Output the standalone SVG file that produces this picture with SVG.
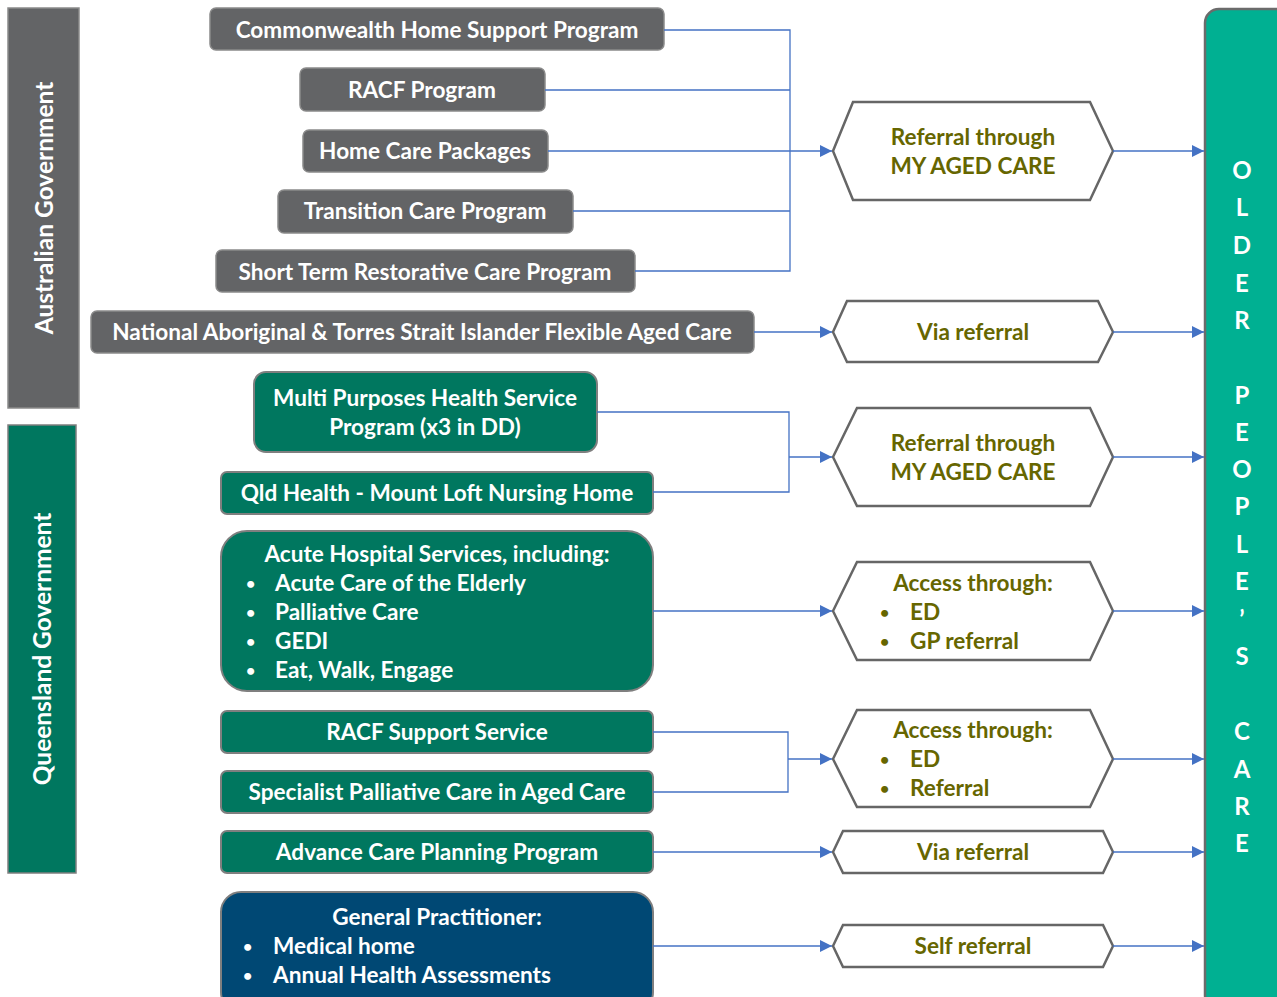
<svg xmlns="http://www.w3.org/2000/svg" width="1277" height="997" viewBox="0 0 1277 997">
<defs>
<marker id="arr" viewBox="0 0 12 12" refX="12" refY="6" markerWidth="12" markerHeight="12" markerUnits="userSpaceOnUse" orient="auto">
<path d="M0,0 L12,6 L0,12 z" fill="#4472C4"/>
</marker>
<style>
.t{font-family:Lato,"Open Sans","Liberation Sans",sans-serif;font-weight:bold;}
.w{fill:#ffffff;font-size:22.6px;}
.ol{fill:#666600;font-size:22.6px;}
.b{font-size:16px;}
.gray{fill:#636466;stroke:#8a8a8a;stroke-width:1.5;}
.grn{fill:#00775F;stroke:#7f7f7f;stroke-width:2;}
.blu{fill:#004874;stroke:#7f7f7f;stroke-width:2;}
.hex{fill:#ffffff;stroke:#666666;stroke-width:2.5;}
.c{fill:none;stroke:#4472C4;stroke-width:1.3;}
.ca{fill:none;stroke:#4472C4;stroke-width:1.3;marker-end:url(#arr);}
.big{fill:#ffffff;font-size:24.5px;}
.let{fill:#ffffff;font-size:24px;}
</style>
</defs>

<g id="australian-government">
<rect x="8" y="8" width="71" height="400" fill="#636466" stroke="#8a8a8a" stroke-width="1.5"/>
<text class="t big" transform="translate(53,208) rotate(-90)" text-anchor="middle">Australian Government</text>
</g>
<g id="queensland-government">
<rect x="8" y="425" width="68" height="448" fill="#00775F" stroke="#7f7f7f" stroke-width="1.5"/>
<text class="t big" transform="translate(51,649) rotate(-90)" text-anchor="middle">Queensland Government</text>
</g>

<g id="older-peoples-care">
<rect x="1205" y="9" width="90" height="1000" rx="14" fill="#00B092" stroke="#6b6b6b" stroke-width="2.5"/>
<g class="t let" text-anchor="middle">
<text x="1242" y="179">O</text>
<text x="1242" y="216">L</text>
<text x="1242" y="254">D</text>
<text x="1242" y="292">E</text>
<text x="1242" y="329">R</text>
<text x="1242" y="404">P</text>
<text x="1242" y="441">E</text>
<text x="1242" y="478">O</text>
<text x="1242" y="515">P</text>
<text x="1242" y="553">L</text>
<text x="1242" y="590">E</text>
<text x="1242" y="628">’</text>
<text x="1242" y="665">S</text>
<text x="1242" y="740">C</text>
<text x="1242" y="778">A</text>
<text x="1242" y="815">R</text>
<text x="1242" y="852">E</text>
</g>
</g>

<g id="chsp"><rect class="gray" x="210" y="8" width="454" height="42" rx="6"/><text class="t w" x="437" y="38" text-anchor="middle">Commonwealth Home Support Program</text></g>
<g id="racf-program"><rect class="gray" x="300" y="68" width="245" height="43" rx="6"/><text class="t w" x="422" y="98" text-anchor="middle">RACF Program</text></g>
<g id="home-care-packages"><rect class="gray" x="303" y="130" width="245" height="42" rx="6"/><text class="t w" x="425" y="159" text-anchor="middle">Home Care Packages</text></g>
<g id="transition-care"><rect class="gray" x="278" y="190" width="295" height="43" rx="6"/><text class="t w" x="425" y="219" text-anchor="middle">Transition Care Program</text></g>
<g id="short-term"><rect class="gray" x="216" y="250" width="419" height="42" rx="6"/><text class="t w" x="425" y="280" text-anchor="middle">Short Term Restorative Care Program</text></g>
<g id="natsi"><rect class="gray" x="91" y="311" width="663" height="42" rx="6"/><text class="t w" x="422" y="340" text-anchor="middle">National Aboriginal &amp; Torres Strait Islander Flexible Aged Care</text></g>

<g id="mphs"><rect class="grn" x="254" y="372" width="343" height="80" rx="12"/><text class="t w" x="425" y="406" text-anchor="middle">Multi Purposes Health Service</text><text class="t w" x="425" y="435" text-anchor="middle">Program (x3 in DD)</text></g>
<g id="mount-loft"><rect class="grn" x="221" y="472" width="432" height="42" rx="6"/><text class="t w" x="437" y="501" text-anchor="middle">Qld Health - Mount Loft Nursing Home</text></g>
<g id="acute"><rect class="grn" x="221" y="531" width="432" height="160" rx="26"/>
<text class="t w" x="437" y="562" text-anchor="middle">Acute Hospital Services, including:</text>
<text class="t w b" x="246" y="589">•</text><text class="t w" x="275" y="591">Acute Care of the Elderly</text>
<text class="t w b" x="246" y="618">•</text><text class="t w" x="275" y="620">Palliative Care</text>
<text class="t w b" x="246" y="647">•</text><text class="t w" x="275" y="649">GEDI</text>
<text class="t w b" x="246" y="676">•</text><text class="t w" x="275" y="678">Eat, Walk, Engage</text>
</g>
<g id="racf-support"><rect class="grn" x="221" y="711" width="432" height="42" rx="6"/><text class="t w" x="437" y="740" text-anchor="middle">RACF Support Service</text></g>
<g id="specialist-palliative"><rect class="grn" x="221" y="771" width="432" height="42" rx="6"/><text class="t w" x="437" y="800" text-anchor="middle">Specialist Palliative Care in Aged Care</text></g>
<g id="advance-care"><rect class="grn" x="221" y="831" width="432" height="42" rx="6"/><text class="t w" x="437" y="860" text-anchor="middle">Advance Care Planning Program</text></g>
<g id="gp"><rect class="blu" x="221" y="892" width="432" height="120" rx="20"/>
<text class="t w" x="437" y="925" text-anchor="middle">General Practitioner:</text>
<text class="t w b" x="243" y="952">•</text><text class="t w" x="273" y="954">Medical home</text>
<text class="t w b" x="243" y="981">•</text><text class="t w" x="273" y="983">Annual Health Assessments</text>
</g>

<g id="hex-mac1"><polygon class="hex" points="833,151 853,102 1090,102 1113,151 1090,200 853,200"/>
<text class="t ol" x="973" y="145" text-anchor="middle">Referral through</text><text class="t ol" x="973" y="174" text-anchor="middle">MY AGED CARE</text></g>
<g id="hex-via1"><polygon class="hex" points="833,332 847,301 1098,301 1113,332 1098,362 847,362"/>
<text class="t ol" x="973" y="340" text-anchor="middle">Via referral</text></g>
<g id="hex-mac2"><polygon class="hex" points="833,457 857,408 1090,408 1113,457 1090,506 857,506"/>
<text class="t ol" x="973" y="451" text-anchor="middle">Referral through</text><text class="t ol" x="973" y="480" text-anchor="middle">MY AGED CARE</text></g>
<g id="hex-access1"><polygon class="hex" points="833,611 857,562 1090,562 1113,611 1090,660 857,660"/>
<text class="t ol" x="973" y="591" text-anchor="middle">Access through:</text>
<text class="t ol b" x="880" y="618">•</text><text class="t ol" x="910" y="620">ED</text>
<text class="t ol b" x="880" y="647">•</text><text class="t ol" x="910" y="649">GP referral</text></g>
<g id="hex-access2"><polygon class="hex" points="833,759 857,710 1090,710 1113,759 1090,807 857,807"/>
<text class="t ol" x="973" y="738" text-anchor="middle">Access through:</text>
<text class="t ol b" x="880" y="765">•</text><text class="t ol" x="910" y="767">ED</text>
<text class="t ol b" x="880" y="794">•</text><text class="t ol" x="910" y="796">Referral</text></g>
<g id="hex-via2"><polygon class="hex" points="833,852 843,831 1103,831 1113,852 1103,873 843,873"/>
<text class="t ol" x="973" y="860" text-anchor="middle">Via referral</text></g>
<g id="hex-self"><polygon class="hex" points="833,946 843,925 1103,925 1113,946 1103,967 843,967"/>
<text class="t ol" x="973" y="954" text-anchor="middle">Self referral</text></g>

<g id="connectors">
<path class="c" d="M664,30 H790 V271 H635 M545,90 H790 M573,211 H790"/>
<path class="ca" d="M548,151 H832"/>
<path class="ca" d="M1113,151 H1204"/>
<path class="ca" d="M754,332 H832"/>
<path class="ca" d="M1113,332 H1204"/>
<path class="c" d="M597,412 H789 V492 H653"/>
<path class="ca" d="M789,457 H832"/>
<path class="ca" d="M1113,457 H1204"/>
<path class="ca" d="M653,611 H832"/>
<path class="ca" d="M1113,611 H1204"/>
<path class="c" d="M653,732 H788 V792 H653"/>
<path class="ca" d="M788,759 H832"/>
<path class="ca" d="M1113,759 H1204"/>
<path class="ca" d="M653,852 H832"/>
<path class="ca" d="M1113,852 H1204"/>
<path class="ca" d="M653,946 H832"/>
<path class="ca" d="M1113,946 H1204"/>
</g>
</svg>
